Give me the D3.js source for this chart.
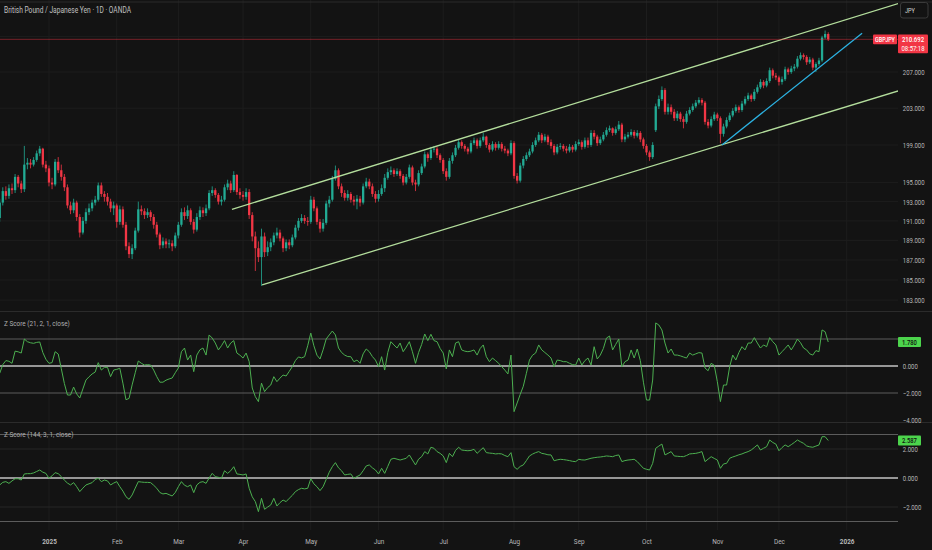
<!DOCTYPE html>
<html>
<head>
<meta charset="utf-8">
<script src="https://d3js.org/d3.v7.min.js"></script>
<style>
  html, body { margin: 0; padding: 0; background: #131313; }
  svg { display: block; }
  text { font-family: Roboto, "Noto Sans", sans-serif; }
</style>
</head>
<body>
<svg id="chart" width="932" height="550"></svg>
<script>
// ---------------------------------------------------------------- data ---
const symbolTitle = "British Pound / Japanese Yen · 1D · OANDA";
const symbol      = "GBPJPY";
const currency    = "JPY";
const countdown   = "08:57:18";

// daily sessions (weekdays, minus closed days)
const firstSession = "2024-12-09";
const closedDays   = ["2024-12-25", "2025-01-01", "2025-12-25", "2026-01-01"];

const firstOpen = 191.3;
const openGaps  = [[213, 200.6]];          // [bar, open] where the week opened with a gap

const close = [
  192.9,194.1,193.6,194.4,194.2,195.6,194.9,194.3,196.9,197.1,
  196.9,197.4,198.1,198.6,196.9,196.5,195.0,194.8,197.2,196.3,
  195.6,194.5,192.6,192.1,192.9,191.4,189.8,191.0,191.9,192.3,
  192.9,193.2,194.7,193.8,193.5,193.0,192.3,192.6,190.9,192.2,
  190.6,188.4,187.6,188.2,190.0,192.2,192.0,191.6,191.9,191.4,
  190.6,189.6,188.5,188.9,188.6,188.7,188.4,189.5,190.6,191.9,
  191.5,192.1,190.9,190.1,191.4,192.1,191.8,192.3,193.9,194.2,
  193.7,193.0,193.2,194.5,194.9,194.2,195.8,194.0,193.7,193.5,
  194.0,191.6,189.4,188.2,187.3,189.4,187.8,188.3,188.8,189.5,
  189.8,189.2,188.2,188.8,188.5,189.3,190.3,191.0,191.3,191.0,
  190.9,193.2,192.3,190.9,190.2,190.8,192.8,193.2,195.4,196.3,
  194.6,193.9,193.4,193.8,193.2,193.0,193.3,192.9,194.6,195.1,
  194.6,193.8,193.3,193.8,194.4,195.5,196.1,196.3,195.9,196.2,
  195.7,195.0,195.6,196.6,195.0,194.8,196.0,196.7,198.0,197.6,
  198.5,198.6,197.9,197.4,196.2,195.6,197.3,197.9,198.7,199.3,
  198.9,198.6,198.3,199.2,199.5,198.9,199.5,199.9,199.0,198.5,
  199.1,198.7,199.1,198.6,198.4,198.1,199.2,195.7,195.2,196.8,
  197.5,197.9,198.3,199.0,199.5,200.1,199.5,199.9,199.3,198.9,
  198.2,198.8,198.9,198.6,198.4,198.8,198.5,199.1,199.3,198.8,
  199.5,199.0,200.3,199.9,199.2,199.6,200.1,200.6,200.8,200.3,
  200.7,201.2,199.6,199.9,200.1,200.4,200.0,200.3,199.6,198.9,
  198.2,197.7,199.0,203.2,204.0,205.0,202.6,203.1,202.6,201.9,
  202.4,201.8,201.5,202.4,202.8,203.2,203.6,203.9,203.6,201.5,
  201.1,201.8,202.3,201.9,200.2,201.0,201.7,202.2,202.7,203.1,
  202.8,203.5,204.0,204.4,204.0,204.8,205.3,205.9,205.5,206.0,
  207.2,206.6,206.4,205.9,206.2,207.3,207.0,207.4,207.6,208.5,
  208.9,208.7,208.1,208.4,207.5,207.9,208.3,210.9,211.3,210.692
];

const high = [
  193.3,194.5,194.6,194.8,194.9,195.9,195.8,195.2,198.9,197.6,
  197.5,197.7,198.4,198.9,198.7,197.3,196.8,195.5,197.5,197.7,
  196.9,195.9,194.8,193.0,193.3,193.1,191.7,191.4,192.3,192.8,
  193.2,193.6,195.0,195.0,194.1,193.9,193.3,193.0,192.8,192.6,
  192.5,190.9,188.8,188.6,190.3,193.0,192.6,192.3,192.3,192.1,
  191.7,190.9,189.8,189.3,189.2,189.1,189.0,189.8,190.9,192.3,
  192.4,192.6,192.3,191.2,191.8,192.5,192.4,192.7,194.2,194.6,
  194.4,193.9,193.6,194.8,195.3,195.2,196.2,195.9,194.4,194.1,
  194.4,194.3,191.9,189.9,188.9,190.2,189.8,188.9,189.2,189.8,
  190.3,190.1,189.4,189.1,189.1,189.6,190.6,191.3,191.7,191.6,
  191.4,193.6,193.5,192.5,191.2,191.2,193.1,193.6,195.7,196.8,
  196.5,194.9,194.2,194.2,194.0,193.6,193.7,193.6,194.9,195.5,
  195.4,194.9,194.1,194.2,194.8,195.9,196.5,196.7,196.5,196.5,
  196.4,195.9,195.9,196.9,196.8,195.3,196.3,197.0,198.3,198.2,
  198.8,198.9,198.8,198.1,197.6,196.5,197.6,198.2,199.0,199.6,
  199.5,199.1,198.8,199.5,199.8,199.7,199.8,200.3,200.0,199.2,
  199.4,199.3,199.4,199.3,198.9,198.6,199.5,199.4,196.0,197.1,
  197.8,198.2,198.6,199.3,199.8,200.4,200.3,200.2,200.1,199.6,
  199.1,199.1,199.2,199.1,198.9,199.1,199.0,199.4,199.6,199.5,
  199.8,199.8,200.6,200.6,200.1,199.9,200.4,200.9,201.1,200.9,
  201.0,201.6,201.4,200.2,200.4,200.7,200.6,200.6,200.5,199.8,
  199.1,198.4,199.3,203.5,204.4,205.4,205.2,203.5,203.4,202.9,
  202.7,202.6,202.1,202.7,203.1,203.5,203.9,204.2,204.1,203.8,
  201.8,202.1,202.6,202.5,202.1,201.3,202.0,202.5,203.0,203.4,
  203.3,203.8,204.3,204.7,204.6,205.1,205.6,206.2,206.1,206.3,
  207.5,207.4,206.9,206.6,206.5,207.6,207.5,207.7,207.9,208.8,
  209.2,209.1,208.9,208.7,208.6,208.1,208.6,211.1,211.7,211.5
];

const low = [
  190.9,192.6,193.2,193.3,193.8,193.9,194.5,193.9,194.0,196.4,
  196.5,196.7,197.2,197.8,196.6,196.1,194.6,194.3,194.6,196.0,
  195.2,194.1,192.3,191.7,191.8,191.0,189.3,189.6,190.7,191.6,
  192.0,192.6,193.0,193.5,193.0,192.6,191.9,191.6,190.3,190.6,
  190.3,188.0,187.2,187.1,188.0,189.8,191.6,191.2,191.3,191.0,
  190.2,189.3,188.1,188.2,188.2,188.2,187.9,188.2,189.2,190.4,
  191.1,191.2,190.6,189.7,189.9,191.1,191.4,191.5,192.1,193.6,
  193.4,192.7,192.6,193.0,194.2,193.9,194.0,193.7,193.3,193.1,
  193.2,191.2,188.9,185.9,186.8,184.4,187.3,187.4,187.9,188.5,
  189.2,188.9,187.8,187.9,188.1,188.3,189.1,190.0,190.8,190.7,
  190.5,190.7,192.0,190.6,189.8,189.9,190.6,192.4,193.0,195.2,
  194.3,193.5,193.1,193.1,192.9,192.6,192.2,192.5,192.7,194.4,
  194.3,193.5,192.9,193.0,193.6,194.0,195.3,195.8,195.6,195.7,
  195.4,194.7,194.8,195.4,194.7,194.1,194.6,195.8,196.5,197.2,
  197.4,198.2,197.6,197.1,195.9,195.2,195.4,197.0,197.7,198.5,
  198.6,198.3,198.0,198.1,199.0,198.6,198.7,199.3,198.7,198.2,
  198.3,198.4,198.5,198.3,198.1,197.8,197.9,195.4,194.9,195.0,
  196.5,197.3,197.7,198.1,198.8,199.3,199.2,199.3,199.0,198.6,
  197.9,198.0,198.5,198.3,198.1,198.2,198.2,198.3,198.9,198.5,
  198.6,198.7,198.8,199.6,198.9,199.0,199.4,199.9,200.4,200.0,
  200.1,200.5,199.3,199.3,199.7,199.9,199.7,199.8,199.3,198.6,
  197.9,197.3,197.5,200.4,202.9,203.8,202.3,202.3,202.3,201.6,
  201.6,201.5,200.8,201.3,202.2,202.6,203.0,203.4,203.3,201.2,
  200.8,200.9,201.6,201.6,199.2,199.9,200.8,201.5,202.0,202.5,
  202.5,202.6,203.3,203.8,203.7,203.8,204.6,205.1,205.2,205.3,
  205.8,206.3,206.1,205.5,205.6,206.0,206.7,206.8,207.1,207.4,
  208.3,208.4,207.8,207.9,207.2,207.0,207.7,208.1,210.7,210.5
];

// Z Score (21, 2, 1, close)
const zScore21 = [
  -0.54,0.1,0.4,0.35,0.2,1.1,1.05,0.96,2.0,1.8,
  1.72,1.68,1.75,1.78,1.0,0.5,0.2,0.25,1.06,0.89,
  -0.2,-1.3,-2.15,-2.15,-1.56,-2.07,-2.37,-1.7,-1.04,-0.8,
  -0.59,-0.45,0.25,-0.3,-0.1,-0.1,-0.79,-0.3,-0.25,-0.17,
  -1.27,-2.5,-2.4,-1.4,-0.5,0.37,0.2,0.07,0.1,0.07,
  -0.3,-0.79,-1.2,-1.2,-1.05,-0.96,-0.89,-0.5,-0.15,1.06,
  1.33,0.44,0.81,-0.42,0.81,1.2,1.33,0.81,2.3,2.07,
  1.7,1.19,1.5,1.88,1.33,1.7,1.88,0.96,0.8,0.59,
  0.96,0.32,-1.63,-2.27,-2.64,-1.27,-1.9,-1.6,-1.41,-0.79,
  -1.16,-0.9,-0.67,-0.74,-0.4,-0.05,0.4,0.67,0.6,0.69,
  1.5,2.44,1.5,0.8,0.52,1.2,2.0,2.3,2.59,2.3,
  1.33,1.0,0.81,0.7,0.69,0.32,0.44,0.2,0.9,1.26,
  1.06,0.7,0.44,-0.05,0.69,-0.3,1.0,1.8,1.56,1.33,
  1.7,1.06,1.4,1.8,1.06,0.2,1.0,1.6,2.37,1.88,
  2.35,1.88,1.8,1.3,0.96,-0.22,1.19,0.69,1.7,1.8,
  1.19,1.1,1.06,1.1,1.19,0.81,1.3,1.56,0.69,0.32,
  0.59,0.4,0.2,-0.05,-0.3,-0.59,0.81,-3.38,-2.74,-2.1,
  -1.5,-0.54,0.44,0.8,0.96,1.56,1.19,1.0,0.81,0.59,
  -0.05,0.44,0.4,0.32,0.32,0.2,0.1,0.07,0.59,0.07,
  0.4,0.59,0.07,1.43,0.52,0.81,1.3,2.07,2.22,1.19,
  1.6,2.0,-0.05,0.32,0.44,1.19,0.59,1.26,0.4,-1.2,
  -2.52,-2.52,-1.04,3.19,3.04,2.67,1.7,0.96,1.26,0.81,
  0.81,0.75,0.67,0.59,0.96,0.81,0.9,0.99,0.96,-0.15,
  -0.35,0.2,0.05,-1.16,-2.64,-1.41,-1.41,-0.05,0.81,0.44,
  1.0,1.43,1.19,1.7,1.7,2.1,1.7,1.33,1.56,1.43,
  2.1,1.8,1.56,0.81,1.06,1.3,1.56,1.19,1.56,2.0,
  1.73,1.33,1.19,0.9,0.81,1.14,1.06,2.67,2.54,1.78
];

// Z Score (144, 3, 1, close)
const zScore144 = [
  -0.48,-0.3,-0.25,-0.37,-0.2,-0.05,-0.05,-0.14,0.28,0.3,
  0.3,0.35,0.45,0.55,0.4,0.32,-0.02,0.15,0.37,0.3,
  0.1,-0.15,-0.35,-0.48,-0.32,-0.6,-0.94,-0.7,-0.48,-0.4,
  -0.32,-0.1,-0.02,-0.25,-0.14,-0.2,-0.48,-0.35,-0.25,-0.6,
  -0.9,-1.29,-1.47,-1.17,-0.7,-0.25,-0.28,-0.3,-0.3,-0.32,
  -0.5,-0.71,-1.0,-1.1,-1.06,-1.15,-1.24,-1.0,-0.6,-0.25,
  -0.5,-0.6,-0.48,-1.01,-0.48,-0.3,-0.25,-0.37,0.0,0.32,
  0.09,0.05,-0.02,0.5,0.32,0.5,0.78,0.28,0.25,0.21,
  0.28,-0.71,-1.3,-1.63,-2.32,-1.4,-2.16,-2.0,-1.86,-1.4,
  -1.93,-1.7,-1.52,-1.63,-1.4,-1.2,-0.94,-0.8,-0.71,-0.75,
  -0.71,-0.05,-0.4,-0.6,-0.87,-0.6,-0.1,0.4,0.78,1.06,
  0.7,0.5,0.21,0.25,0.28,-0.02,0.1,0.21,0.5,0.83,
  0.9,0.7,0.55,0.28,0.67,0.32,0.8,1.29,1.36,1.3,
  1.24,1.3,1.36,1.59,1.24,0.9,1.3,1.47,1.82,1.66,
  2.12,2.05,1.82,1.7,1.52,1.06,1.7,1.47,1.9,2.12,
  1.93,1.9,1.88,1.9,1.98,1.7,1.9,2.09,1.75,1.72,
  1.7,1.66,1.68,1.66,1.55,1.47,1.75,0.78,0.6,0.8,
  0.9,1.2,1.52,1.65,1.75,1.82,1.7,1.66,1.6,1.59,
  1.19,1.25,1.29,1.27,1.24,1.2,1.15,1.13,1.29,1.25,
  1.24,1.3,1.36,1.4,1.43,1.45,1.48,1.52,1.5,1.47,
  1.55,1.59,1.13,1.2,1.24,1.26,1.29,1.13,0.9,0.67,
  0.6,0.55,1.01,2.05,2.2,2.34,1.59,1.7,1.82,1.52,
  1.5,1.48,1.47,1.55,1.66,1.68,1.7,1.75,1.82,1.13,
  1.3,1.47,1.35,1.24,0.67,0.97,1.01,1.36,1.45,1.52,
  1.6,1.66,1.75,1.82,1.93,2.1,2.28,1.93,2.05,2.16,
  2.62,2.45,2.34,1.88,2.1,2.28,2.16,2.3,2.45,2.62,
  2.5,2.39,2.21,2.15,2.12,2.2,2.28,2.85,2.85,2.587
];

const priceTicks = [183, 185, 187, 189, 191, 193, 195, 199, 203, 207, 211];
const z21Ticks   = [0, -2, -4];
const z21Bands   = [2, -2];
const z144Ticks  = [2, 0, -2];
const z144Grid   = [2, -2];
const z144Bands  = [3, -3];

// drawings: [bar, price] anchors
const channelUpper = [[75.4, 192.2], [291.7, 214.8]];
const channelLower = [[85.2, 184.5], [291.7, 204.9]];
const supportLine  = [[234.5, 199.0], [280.0, 211.4]];

// ------------------------------------------------------------- layout ---
const W = 932, H = 550;
const PLOT_R = 898;
const SQ = 0.8;                       // horizontal squeeze of the screenshot text

const UP = "#22ab94", DOWN = "#f23645";
const GRID = "#1d1d1d", SEP = "#2b2b2b", TXT = "#b8b8b8";
const ZLINE = "#4caf50", ZLABEL = "#4cd44c";

const svg = d3.select("#chart");
svg.append("rect").attr("width", W).attr("height", H).attr("fill", "#131313");

function tradingDays(start, count) {
    const out = [];
    const d = new Date(start + "T00:00:00Z");
    while (out.length < count) {
        const iso = d.toISOString().slice(0, 10);
        const wd = d.getUTCDay();
        if (wd !== 0 && wd !== 6 && closedDays.indexOf(iso) < 0) out.push(new Date(d));
        d.setUTCDate(d.getUTCDate() + 1);
    }
    return out;
}

const days = tradingDays(firstSession, 284);
const monthIdx = d3.range(1, days.length)
    .filter(i => days[i].getUTCMonth() !== days[i - 1].getUTCMonth());

const x  = d3.scaleLinear().domain([0, 290]).range([-0.3, 892.9]);
const y  = d3.scaleLog().domain([182.02, 215.22]).range([310, 0]);
const z1 = d3.scaleLinear().domain([-4, 4]).range([420, 312]);
const z2 = d3.scaleLinear().domain([-3, 3]).range([521.5, 434.5]);

function addText(g, px, py, str, size, color, anchor, weight) {
    return g.append("text")
        .attr("transform", "translate(" + px + "," + py + ") scale(" + SQ + ",1)")
        .attr("text-anchor", anchor || "start")
        .attr("font-size", size)
        .attr("font-weight", weight || 400)
        .attr("fill", color)
        .text(str);
}

// clip paths
const defs = svg.append("defs");
[["clipPrice", 0, 0, 311], ["clipZ1", 312, 312, 422], ["clipZ2", 423, 423, 530]].forEach(c => {
    defs.append("clipPath").attr("id", c[0])
        .append("rect").attr("x", 0).attr("y", c[1]).attr("width", PLOT_R).attr("height", c[3] - c[2]);
});

//////////////
/// Grid   ///
//////////////

const grid = svg.append("g");
grid.selectAll("line.v")
    .data(monthIdx.filter(i => x(i) < PLOT_R - 20))
    .enter().append("line")
    .attr("x1", d => x(d)).attr("x2", d => x(d))
    .attr("y1", 0).attr("y2", 530)
    .attr("stroke", GRID);

grid.selectAll("line.h")
    .data(priceTicks)
    .enter().append("line")
    .attr("x1", 0).attr("x2", PLOT_R)
    .attr("y1", d => y(d)).attr("y2", d => y(d))
    .attr("stroke", GRID);

z144Grid.forEach(v => {
    grid.append("line").attr("x1", 0).attr("x2", PLOT_R)
        .attr("y1", z2(v)).attr("y2", z2(v)).attr("stroke", "#262626");
});

// panel separators
[2, 311.5, 422.5].forEach(v => {
    svg.append("line").attr("x1", 0).attr("x2", W).attr("y1", v).attr("y2", v)
        .attr("stroke", SEP).attr("stroke-width", 1.2);
});

///////////////////
/// Z panels    ///
///////////////////

function zPanel(scale, values, bands, clip) {
    const g = svg.append("g").attr("clip-path", "url(#" + clip + ")");
    bands.forEach(v => {
        g.append("line").attr("x1", 0).attr("x2", PLOT_R)
            .attr("y1", scale(v)).attr("y2", scale(v))
            .attr("stroke", "#5c5c5c").attr("stroke-width", 1);
    });
    g.append("line").attr("x1", 0).attr("x2", PLOT_R)
        .attr("y1", scale(0)).attr("y2", scale(0))
        .attr("stroke", "#c4c4c4").attr("stroke-width", 1.7);
    g.append("path")
        .datum(values)
        .attr("fill", "none")
        .attr("stroke", ZLINE)
        .attr("stroke-width", 1)
        .attr("stroke-linejoin", "round")
        .attr("d", d3.line().x((d, i) => x(i)).y(d => scale(d)));
}
zPanel(z1, zScore21, z21Bands, "clipZ1");
zPanel(z2, zScore144, z144Bands, "clipZ2");

///////////////
/// Candles ///
///////////////

const gapMap = new Map(openGaps);
const bars = close.map((c, i) => {
    const o = gapMap.has(i) ? gapMap.get(i) : (i === 0 ? firstOpen : close[i - 1]);
    return { i: i, o: o, c: c, h: Math.max(high[i], o, c), l: Math.min(low[i], o, c) };
});

const candles = svg.append("g").attr("clip-path", "url(#clipPrice)");
candles.selectAll("line.wick")
    .data(bars).enter().append("line")
    .attr("x1", d => x(d.i)).attr("x2", d => x(d.i))
    .attr("y1", d => y(d.h)).attr("y2", d => y(d.l))
    .attr("stroke", d => d.c >= d.o ? UP : DOWN)
    .attr("stroke-width", 0.8);
candles.selectAll("rect.body")
    .data(bars).enter().append("rect")
    .attr("x", d => x(d.i) - 1.15)
    .attr("width", 2.3)
    .attr("y", d => y(Math.max(d.o, d.c)))
    .attr("height", d => Math.max(0.8, Math.abs(y(d.o) - y(d.c))))
    .attr("fill", d => d.c >= d.o ? UP : DOWN);

// drawings
const drawings = svg.append("g").attr("clip-path", "url(#clipPrice)");
[[channelUpper, "#b3dd9c"], [channelLower, "#b3dd9c"], [supportLine, "#2cb3e3"]].forEach(l => {
    drawings.append("line")
        .attr("x1", x(l[0][0][0])).attr("y1", y(l[0][0][1]))
        .attr("x2", x(l[0][1][0])).attr("y2", y(l[0][1][1]))
        .attr("stroke", l[1]).attr("stroke-width", 1.3);
});

// last price line
const last = close[close.length - 1];
svg.append("line")
    .attr("x1", 0).attr("x2", PLOT_R)
    .attr("y1", y(last)).attr("y2", y(last))
    .attr("stroke", DOWN).attr("stroke-opacity", 0.45);

////////////
/// Axes ///
////////////

const priceAxis = svg.append("g")
    .attr("transform", "translate(" + PLOT_R + ",0)")
    .call(d3.axisRight(y).tickValues(priceTicks.filter(v => v < 209)).tickFormat(d3.format(".3f"))
        .tickSize(0).tickPadding(6));
priceAxis.select(".domain").remove();
priceAxis.selectAll("text")
    .attr("transform", "scale(" + SQ + ",1)")
    .attr("fill", TXT).attr("font-size", 7.5).attr("font-family", "Roboto, sans-serif");

function zAxis(scale, ticks) {
    const g = svg.append("g")
        .attr("transform", "translate(" + PLOT_R + ",0)")
        .call(d3.axisRight(scale).tickValues(ticks).tickFormat(d3.format(".3f"))
            .tickSize(0).tickPadding(6));
    g.select(".domain").remove();
    g.selectAll("text")
        .attr("transform", "scale(" + SQ + ",1)")
        .attr("fill", TXT).attr("font-size", 7.5).attr("font-family", "Roboto, sans-serif");
}
zAxis(z1, z21Ticks);
zAxis(z2, z144Ticks);

const timeAxis = svg.append("g")
    .attr("transform", "translate(0,530)")
    .call(d3.axisBottom(x)
        .tickValues(monthIdx.filter(i => x(i) < PLOT_R - 20))
        .tickFormat(i => days[i].getUTCMonth() === 0
            ? String(days[i].getUTCFullYear())
            : d3.utcFormat("%b")(days[i]))
        .tickSize(0).tickPadding(8));
timeAxis.select(".domain").remove();
timeAxis.selectAll("text")
    .attr("transform", "scale(" + SQ + ",1)")
    .attr("fill", TXT).attr("font-size", 8).attr("font-family", "Roboto, sans-serif")
    .attr("font-weight", i => days[i].getUTCMonth() === 0 ? 700 : 400);

//////////////
/// Labels ///
//////////////

addText(svg, 4, 13, symbolTitle, 8.3, "#c0c0c0");
addText(svg, 4, 326, "Z Score (21, 2, 1, close)", 8, "#b0b0b0");
addText(svg, 4, 436.5, "Z Score (144, 3, 1, close)", 8, "#b0b0b0");

// currency button
svg.append("rect").attr("x", 900.5).attr("y", 2.5).attr("width", 27.5).attr("height", 15.5)
    .attr("rx", 2.5).attr("fill", "none").attr("stroke", "#3a3a3a");
addText(svg, 905, 13, currency, 7, "#d6d6d6");

// last price tags
const yl = y(last);
svg.append("rect").attr("x", 873).attr("y", yl - 4.8).attr("width", 24).attr("height", 9.6)
    .attr("rx", 1).attr("fill", DOWN);
addText(svg, 885, yl + 2.5, symbol, 6.8, "#ffffff", "middle", 500);
svg.append("rect").attr("x", 898).attr("y", yl - 4.8).attr("width", 30).attr("height", 18.6)
    .attr("rx", 1).attr("fill", DOWN);
addText(svg, 913, yl + 2.5, d3.format(".3f")(last), 7.5, "#ffffff", "middle", 500);
addText(svg, 913, yl + 11.3, countdown, 7.5, "#ffffff", "middle", 400);

// z score value tags
[[z1, zScore21], [z2, zScore144]].forEach(p => {
    const v = p[1][p[1].length - 1];
    const yc = p[0](v);
    svg.append("rect").attr("x", 898).attr("y", yc - 5).attr("width", 23).attr("height", 10)
        .attr("rx", 1).attr("fill", ZLABEL);
    addText(svg, 909.5, yc + 2.6, d3.format(".3f")(v), 7.3, "#0f0f0f", "middle", 500);
});
</script>
</body>
</html>
